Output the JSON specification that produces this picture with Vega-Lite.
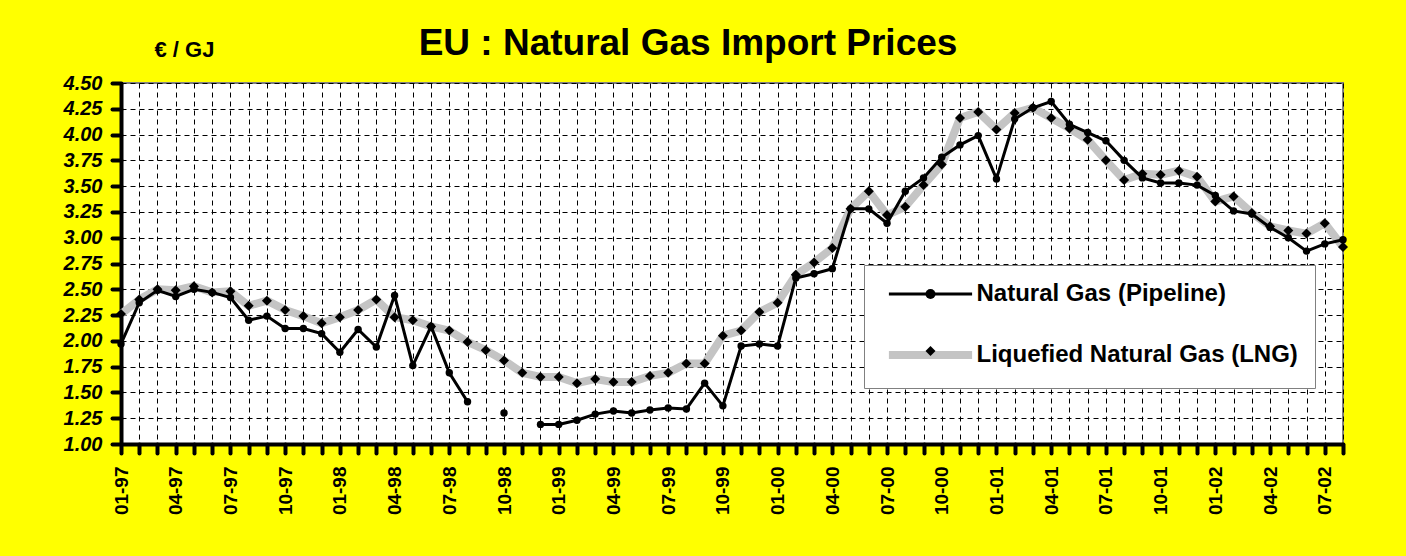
{
  "$schema": "https://vega.github.io/schema/vega-lite/v6.json",
  "width": 1222,
  "height": 361,
  "autosize": {"type": "none"},
  "padding": {"left": 121, "top": 83, "right": 63, "bottom": 112},
  "background": "#ffff00",
  "title": {"text": "EU : Natural Gas Import Prices", "fontSize": 37, "font": "Liberation Sans", "fontWeight": "bold", "color": "black", "anchor": "middle", "frame": "group", "dx": -44, "dy": 39, "offset": 14},
  "config": {"view": {"fill": "white", "stroke": "#808080", "strokeWidth": 2}, "font": "Liberation Sans"},
  "data": {"values": [
    {"m":"01-97","s":"Liquefied Natural Gas (LNG)","v":2.26},{"m":"02-97","s":"Liquefied Natural Gas (LNG)","v":2.40},{"m":"03-97","s":"Liquefied Natural Gas (LNG)","v":2.50},{"m":"04-97","s":"Liquefied Natural Gas (LNG)","v":2.49},{"m":"05-97","s":"Liquefied Natural Gas (LNG)","v":2.53},{"m":"06-97","s":"Liquefied Natural Gas (LNG)","v":2.47},{"m":"07-97","s":"Liquefied Natural Gas (LNG)","v":2.48},{"m":"08-97","s":"Liquefied Natural Gas (LNG)","v":2.34},{"m":"09-97","s":"Liquefied Natural Gas (LNG)","v":2.39},{"m":"10-97","s":"Liquefied Natural Gas (LNG)","v":2.30},{"m":"11-97","s":"Liquefied Natural Gas (LNG)","v":2.24},{"m":"12-97","s":"Liquefied Natural Gas (LNG)","v":2.17},
    {"m":"01-98","s":"Liquefied Natural Gas (LNG)","v":2.23},{"m":"02-98","s":"Liquefied Natural Gas (LNG)","v":2.30},{"m":"03-98","s":"Liquefied Natural Gas (LNG)","v":2.40},{"m":"04-98","s":"Liquefied Natural Gas (LNG)","v":2.23},{"m":"05-98","s":"Liquefied Natural Gas (LNG)","v":2.20},{"m":"06-98","s":"Liquefied Natural Gas (LNG)","v":2.14},{"m":"07-98","s":"Liquefied Natural Gas (LNG)","v":2.10},{"m":"08-98","s":"Liquefied Natural Gas (LNG)","v":1.99},{"m":"09-98","s":"Liquefied Natural Gas (LNG)","v":1.91},{"m":"10-98","s":"Liquefied Natural Gas (LNG)","v":1.81},{"m":"11-98","s":"Liquefied Natural Gas (LNG)","v":1.69},{"m":"12-98","s":"Liquefied Natural Gas (LNG)","v":1.65},
    {"m":"01-99","s":"Liquefied Natural Gas (LNG)","v":1.65},{"m":"02-99","s":"Liquefied Natural Gas (LNG)","v":1.59},{"m":"03-99","s":"Liquefied Natural Gas (LNG)","v":1.63},{"m":"04-99","s":"Liquefied Natural Gas (LNG)","v":1.60},{"m":"05-99","s":"Liquefied Natural Gas (LNG)","v":1.60},{"m":"06-99","s":"Liquefied Natural Gas (LNG)","v":1.66},{"m":"07-99","s":"Liquefied Natural Gas (LNG)","v":1.69},{"m":"08-99","s":"Liquefied Natural Gas (LNG)","v":1.78},{"m":"09-99","s":"Liquefied Natural Gas (LNG)","v":1.78},{"m":"10-99","s":"Liquefied Natural Gas (LNG)","v":2.05},{"m":"11-99","s":"Liquefied Natural Gas (LNG)","v":2.10},{"m":"12-99","s":"Liquefied Natural Gas (LNG)","v":2.28},
    {"m":"01-00","s":"Liquefied Natural Gas (LNG)","v":2.37},{"m":"02-00","s":"Liquefied Natural Gas (LNG)","v":2.64},{"m":"03-00","s":"Liquefied Natural Gas (LNG)","v":2.76},{"m":"04-00","s":"Liquefied Natural Gas (LNG)","v":2.90},{"m":"05-00","s":"Liquefied Natural Gas (LNG)","v":3.28},{"m":"06-00","s":"Liquefied Natural Gas (LNG)","v":3.45},{"m":"07-00","s":"Liquefied Natural Gas (LNG)","v":3.22},{"m":"08-00","s":"Liquefied Natural Gas (LNG)","v":3.30},{"m":"09-00","s":"Liquefied Natural Gas (LNG)","v":3.51},{"m":"10-00","s":"Liquefied Natural Gas (LNG)","v":3.71},{"m":"11-00","s":"Liquefied Natural Gas (LNG)","v":4.16},{"m":"12-00","s":"Liquefied Natural Gas (LNG)","v":4.22},
    {"m":"01-01","s":"Liquefied Natural Gas (LNG)","v":4.05},{"m":"02-01","s":"Liquefied Natural Gas (LNG)","v":4.21},{"m":"03-01","s":"Liquefied Natural Gas (LNG)","v":4.26},{"m":"04-01","s":"Liquefied Natural Gas (LNG)","v":4.16},{"m":"05-01","s":"Liquefied Natural Gas (LNG)","v":4.06},{"m":"06-01","s":"Liquefied Natural Gas (LNG)","v":3.95},{"m":"07-01","s":"Liquefied Natural Gas (LNG)","v":3.75},{"m":"08-01","s":"Liquefied Natural Gas (LNG)","v":3.56},{"m":"09-01","s":"Liquefied Natural Gas (LNG)","v":3.62},{"m":"10-01","s":"Liquefied Natural Gas (LNG)","v":3.61},{"m":"11-01","s":"Liquefied Natural Gas (LNG)","v":3.65},{"m":"12-01","s":"Liquefied Natural Gas (LNG)","v":3.59},
    {"m":"01-02","s":"Liquefied Natural Gas (LNG)","v":3.35},{"m":"02-02","s":"Liquefied Natural Gas (LNG)","v":3.40},{"m":"03-02","s":"Liquefied Natural Gas (LNG)","v":3.24},{"m":"04-02","s":"Liquefied Natural Gas (LNG)","v":3.11},{"m":"05-02","s":"Liquefied Natural Gas (LNG)","v":3.07},{"m":"06-02","s":"Liquefied Natural Gas (LNG)","v":3.04},{"m":"07-02","s":"Liquefied Natural Gas (LNG)","v":3.14},{"m":"08-02","s":"Liquefied Natural Gas (LNG)","v":2.91},
    {"m":"01-97","s":"Natural Gas (Pipeline)","v":1.97},{"m":"02-97","s":"Natural Gas (Pipeline)","v":2.37},{"m":"03-97","s":"Natural Gas (Pipeline)","v":2.49},{"m":"04-97","s":"Natural Gas (Pipeline)","v":2.43},{"m":"05-97","s":"Natural Gas (Pipeline)","v":2.50},{"m":"06-97","s":"Natural Gas (Pipeline)","v":2.47},{"m":"07-97","s":"Natural Gas (Pipeline)","v":2.42},{"m":"08-97","s":"Natural Gas (Pipeline)","v":2.20},{"m":"09-97","s":"Natural Gas (Pipeline)","v":2.24},{"m":"10-97","s":"Natural Gas (Pipeline)","v":2.12},{"m":"11-97","s":"Natural Gas (Pipeline)","v":2.12},{"m":"12-97","s":"Natural Gas (Pipeline)","v":2.07},
    {"m":"01-98","s":"Natural Gas (Pipeline)","v":1.89},{"m":"02-98","s":"Natural Gas (Pipeline)","v":2.11},{"m":"03-98","s":"Natural Gas (Pipeline)","v":1.94},{"m":"04-98","s":"Natural Gas (Pipeline)","v":2.44},{"m":"05-98","s":"Natural Gas (Pipeline)","v":1.76},{"m":"06-98","s":"Natural Gas (Pipeline)","v":2.14},{"m":"07-98","s":"Natural Gas (Pipeline)","v":1.69},{"m":"08-98","s":"Natural Gas (Pipeline)","v":1.41},{"m":"09-98","s":"Natural Gas (Pipeline)","v":null},{"m":"10-98","s":"Natural Gas (Pipeline)","v":1.30},{"m":"11-98","s":"Natural Gas (Pipeline)","v":null},{"m":"12-98","s":"Natural Gas (Pipeline)","v":1.19},
    {"m":"01-99","s":"Natural Gas (Pipeline)","v":1.19},{"m":"02-99","s":"Natural Gas (Pipeline)","v":1.23},{"m":"03-99","s":"Natural Gas (Pipeline)","v":1.29},{"m":"04-99","s":"Natural Gas (Pipeline)","v":1.32},{"m":"05-99","s":"Natural Gas (Pipeline)","v":1.30},{"m":"06-99","s":"Natural Gas (Pipeline)","v":1.33},{"m":"07-99","s":"Natural Gas (Pipeline)","v":1.35},{"m":"08-99","s":"Natural Gas (Pipeline)","v":1.34},{"m":"09-99","s":"Natural Gas (Pipeline)","v":1.59},{"m":"10-99","s":"Natural Gas (Pipeline)","v":1.37},{"m":"11-99","s":"Natural Gas (Pipeline)","v":1.95},{"m":"12-99","s":"Natural Gas (Pipeline)","v":1.97},
    {"m":"01-00","s":"Natural Gas (Pipeline)","v":1.95},{"m":"02-00","s":"Natural Gas (Pipeline)","v":2.61},{"m":"03-00","s":"Natural Gas (Pipeline)","v":2.65},{"m":"04-00","s":"Natural Gas (Pipeline)","v":2.70},{"m":"05-00","s":"Natural Gas (Pipeline)","v":3.28},{"m":"06-00","s":"Natural Gas (Pipeline)","v":3.28},{"m":"07-00","s":"Natural Gas (Pipeline)","v":3.14},{"m":"08-00","s":"Natural Gas (Pipeline)","v":3.45},{"m":"09-00","s":"Natural Gas (Pipeline)","v":3.58},{"m":"10-00","s":"Natural Gas (Pipeline)","v":3.78},{"m":"11-00","s":"Natural Gas (Pipeline)","v":3.90},{"m":"12-00","s":"Natural Gas (Pipeline)","v":3.99},
    {"m":"01-01","s":"Natural Gas (Pipeline)","v":3.57},{"m":"02-01","s":"Natural Gas (Pipeline)","v":4.15},{"m":"03-01","s":"Natural Gas (Pipeline)","v":4.26},{"m":"04-01","s":"Natural Gas (Pipeline)","v":4.32},{"m":"05-01","s":"Natural Gas (Pipeline)","v":4.10},{"m":"06-01","s":"Natural Gas (Pipeline)","v":4.02},{"m":"07-01","s":"Natural Gas (Pipeline)","v":3.94},{"m":"08-01","s":"Natural Gas (Pipeline)","v":3.75},{"m":"09-01","s":"Natural Gas (Pipeline)","v":3.58},{"m":"10-01","s":"Natural Gas (Pipeline)","v":3.53},{"m":"11-01","s":"Natural Gas (Pipeline)","v":3.53},{"m":"12-01","s":"Natural Gas (Pipeline)","v":3.51},
    {"m":"01-02","s":"Natural Gas (Pipeline)","v":3.41},{"m":"02-02","s":"Natural Gas (Pipeline)","v":3.26},{"m":"03-02","s":"Natural Gas (Pipeline)","v":3.23},{"m":"04-02","s":"Natural Gas (Pipeline)","v":3.10},{"m":"05-02","s":"Natural Gas (Pipeline)","v":3.00},{"m":"06-02","s":"Natural Gas (Pipeline)","v":2.87},{"m":"07-02","s":"Natural Gas (Pipeline)","v":2.94},{"m":"08-02","s":"Natural Gas (Pipeline)","v":2.98}
  ]},
  "encoding": {
    "x": {"field": "m", "type": "ordinal", "sort": null, "scale": {"type": "point", "padding": 0},
      "axis": {"title": null, "labelExpr": "(substring(datum.label,0,2) == '01' || substring(datum.label,0,2) == '04' || substring(datum.label,0,2) == '07' || substring(datum.label,0,2) == '10') ? datum.label : ''", "labelAngle": -90, "labelFont": "Liberation Sans", "labelFontSize": 19, "labelFontWeight": "bold", "labelColor": "black", "labelPadding": 13, "labelOverlap": false, "domainColor": "black", "domainWidth": 4, "tickColor": "black", "tickWidth": 4, "tickSize": 9, "tickCap": "round", "grid": true, "gridColor": "black", "gridDash": [5, 4], "gridWidth": 1}},
    "y": {"field": "v", "type": "quantitative", "scale": {"domain": [1, 4.5], "nice": false, "zero": false},
      "axis": {"title": "€ / GJ", "titleAngle": 0, "titleX": 33, "titleY": -27, "titleAlign": "left", "titleBaseline": "alphabetic", "titleFont": "Liberation Sans", "titleFontSize": 22, "titleFontWeight": "bold", "titleColor": "black", "values": [1, 1.25, 1.5, 1.75, 2, 2.25, 2.5, 2.75, 3, 3.25, 3.5, 3.75, 4, 4.25, 4.5], "format": ".2f", "labelFont": "Liberation Sans", "labelFontSize": 20, "labelFontWeight": "bold", "labelFontStyle": "italic", "labelColor": "black", "labelPadding": 10, "domainColor": "black", "domainWidth": 4, "tickColor": "black", "tickWidth": 4, "tickSize": 9, "tickCap": "round", "grid": true, "gridColor": "black", "gridDash": [5, 4], "gridWidth": 1}}
  },
  "layer": [
    {"transform": [{"filter": "datum.s === 'Liquefied Natural Gas (LNG)'"}],
     "mark": {"type": "line", "strokeWidth": 8, "strokeJoin": "round"},
     "encoding": {"color": {"field": "s", "type": "nominal", "scale": {"domain": ["Natural Gas (Pipeline)", "Liquefied Natural Gas (LNG)"], "range": ["#000000", "#c4c4c4"]},
       "legend": {"title": null, "orient": "none", "legendX": 743, "legendY": 182, "fillColor": "white", "strokeColor": "#808080", "padding": 17, "symbolType": "M-5.2,0H5.2", "symbolSize": 256, "rowPadding": 33, "symbolOffset": 37.5, "labelOffset": 34, "labelFont": "Liberation Sans", "labelFontSize": 24, "labelFontWeight": "bold", "labelColor": "black", "labelLimit": 600, "labelExpr": "datum.label + '\u00a0\u00a0'",
         "encode": {"symbols": {"update": {"size": {"value": 256}, "strokeWidth": {"signal": "datum.value === 'Natural Gas (Pipeline)' ? 3 : 8"}, "stroke": {"scale": "color", "field": "value"}, "fill": {"value": "transparent"}, "opacity": {"value": 1}}}}}}}},
    {"transform": [{"filter": "datum.s === 'Natural Gas (Pipeline)'"}],
     "mark": {"type": "line", "strokeWidth": 3},
     "encoding": {"color": {"field": "s", "type": "nominal", "scale": {"domain": ["Natural Gas (Pipeline)", "Liquefied Natural Gas (LNG)"], "range": ["#000000", "#c4c4c4"]}}}},
    {"transform": [{"filter": "datum.s === 'Liquefied Natural Gas (LNG)'"}],
     "mark": {"type": "point", "filled": true, "color": "black", "size": 100, "opacity": 1},
     "encoding": {"shape": {"field": "s", "type": "nominal", "scale": {"domain": ["Natural Gas (Pipeline)", "Liquefied Natural Gas (LNG)", "-"], "range": ["circle", "diamond", "M0,0"]},
       "legend": {"title": null, "values": ["Natural Gas (Pipeline)", "Liquefied Natural Gas (LNG)"], "orient": "none", "legendX": 743, "legendY": 182, "padding": 17, "rowPadding": 33, "symbolOffset": 37.5, "labelFontSize": 24, "labelExpr": "''",
         "encode": {"symbols": {"update": {"size": {"signal": "datum.value === 'Natural Gas (Pipeline)' ? 60 : 110"}, "fill": {"value": "black"}, "stroke": {"value": "black"}, "strokeWidth": {"value": 0}, "opacity": {"value": 1}}}}}}}},
    {"transform": [{"filter": "datum.s === 'Natural Gas (Pipeline)'"}],
     "mark": {"type": "point", "filled": true, "color": "black", "size": 55, "opacity": 1},
     "encoding": {"shape": {"field": "s", "type": "nominal", "scale": {"domain": ["Natural Gas (Pipeline)", "Liquefied Natural Gas (LNG)", "-"], "range": ["circle", "diamond", "M0,0"]}}}}
  ]
}
